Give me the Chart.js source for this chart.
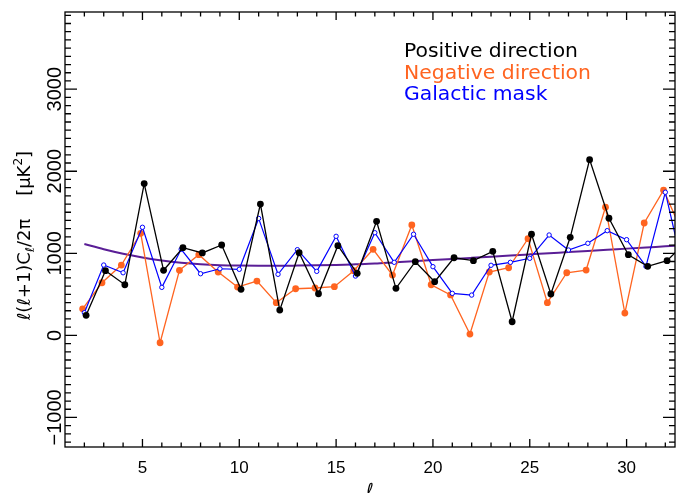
<!DOCTYPE html>
<html>
<head>
<meta charset="utf-8">
<script src="https://cdn.jsdelivr.net/npm/chart.js@4.4.1/dist/chart.umd.min.js"></script>
<style>
  html, body { margin: 0; padding: 0; background: #fff; }
  #wrap { width: 680px; height: 493px; }
</style>
</head>
<body>
<div id="wrap"><canvas id="powerChart" width="680" height="493"></canvas></div>
<script>
// multipoles (l = 33 lies past the right edge, only its connecting lines show)
const ells = [2, 3, 4, 5, 6, 7, 8, 9, 10, 11, 12, 13, 14, 15, 16, 17, 18, 19, 20, 21, 22, 23, 24, 25, 26, 27, 28, 29, 30, 31, 32, 33];

// l(l+1)C_l/2pi in uK^2
const positiveDir = [244, 788, 617, 1849, 793, 1068, 1004, 1101, 561, 1600, 308, 1007, 507, 1093, 756, 1390, 573, 898, 654, 946, 910, 1024, 166, 1232, 504, 1195, 2141, 1427, 983, 841, 910, 1141];
const negativeDir = [324, 641, 857, 1244, -90, 793, 983, 772, 589, 662, 398, 568, 577, 593, 788, 1049, 735, 1345, 617, 493, 16, 772, 824, 1178, 398, 763, 796, 1561, 272, 1369, 1768, 1240];
const galacticMask = [276, 857, 763, 1317, 585, 1049, 751, 812, 805, 1425, 744, 1044, 780, 1207, 723, 1251, 890, 1232, 837, 512, 491, 854, 890, 939, 1223, 1040, 1122, 1276, 1166, 841, 1744, 720];
const modelCurve = [1113, 1050, 995, 950, 913, 885, 866, 855, 850, 848, 848, 850, 853, 858, 866, 875, 889, 903, 917, 931, 945, 959, 973, 987, 1001, 1015, 1029, 1043, 1057, 1071, 1085, 1099];

const xTickLabels = [5, 10, 15, 20, 25, 30];
const yTickLabels = [-1000, 0, 1000, 2000, 3000];
const legendNames = ['Positive direction', 'Negative direction', 'Galactic mask'];

const black = '#000000';
const orange = '#ff6420';
const blue = '#0000ff';
const purple = '#5a1e96';

// small horizontal shift the original uses to separate the two directions
const shift = 0.09;
const toPoints = (vals, dx) => ells.map((l, i) => ({ x: l + dx, y: vals[i] }));

// frame, inward ticks, rotated y labels, axis titles and text legend
const framePlugin = {
  id: 'frame',
  afterDraw(chart) {
    const { ctx, chartArea: a, scales: { x, y } } = chart;
    ctx.save();
    ctx.strokeStyle = black;
    ctx.fillStyle = black;
    ctx.lineWidth = 1.3;
    ctx.strokeRect(a.left, a.top, a.right - a.left, a.bottom - a.top);

    ctx.beginPath();
    for (let v = 2; v <= 32; v++) {
      const px = x.getPixelForValue(v);
      const len = v % 5 === 0 ? 8 : 4.5;
      ctx.moveTo(px, a.bottom); ctx.lineTo(px, a.bottom - len);
      ctx.moveTo(px, a.top); ctx.lineTo(px, a.top + len);
    }
    for (let v = -1300; v <= 3900; v += 100) {
      const py = y.getPixelForValue(v);
      const len = v % 1000 === 0 ? 12 : 6;
      ctx.moveTo(a.left, py); ctx.lineTo(a.left + len, py);
      ctx.moveTo(a.right, py); ctx.lineTo(a.right - len, py);
    }
    ctx.stroke();

    // y tick labels, rotated
    ctx.font = '20px "Liberation Sans"';
    ctx.textAlign = 'center';
    ctx.textBaseline = 'alphabetic';
    yTickLabels.forEach(v => {
      ctx.save();
      ctx.translate(61, y.getPixelForValue(v));
      ctx.rotate(-Math.PI / 2);
      ctx.fillText(v < 0 ? '\u2212' + Math.abs(v) : String(v), 0, 0);
      ctx.restore();
    });

    // y title: l(l+1)C_l/2pi  [uK^2]
    const parts = [
      { t: '\u2113(\u2113+1)C', size: 18, dy: 0 },
      { t: '\u2113', size: 12, dy: 4 },
      { t: '/2\u03c0', size: 18, dy: 0 },
      { t: '    [\u03bcK', size: 18, dy: 0 },
      { t: '2', size: 12, dy: -8 },
      { t: ']', size: 18, dy: 0 }
    ];
    ctx.textAlign = 'left';
    let total = 0;
    parts.forEach(p => {
      ctx.font = p.size + 'px "DejaVu Sans"';
      p.w = ctx.measureText(p.t).width;
      total += p.w;
    });
    ctx.save();
    ctx.translate(30, (a.top + a.bottom) / 2 + 6);
    ctx.rotate(-Math.PI / 2);
    let cx = -total / 2;
    parts.forEach(p => {
      ctx.font = p.size + 'px "DejaVu Sans"';
      ctx.fillText(p.t, cx, p.dy);
      cx += p.w;
    });
    ctx.restore();

    // x title
    ctx.font = 'italic 18px "DejaVu Sans"';
    ctx.textAlign = 'center';
    ctx.fillText('\u2113', (a.left + a.right) / 2, 496);

    // legend as plain coloured text
    ctx.font = '19px "DejaVu Sans"';
    ctx.textAlign = 'left';
    const stretch = 174 / ctx.measureText(legendNames[0]).width;
    const legendColors = [black, orange, blue];
    legendNames.forEach((name, i) => {
      ctx.save();
      ctx.translate(404, 57 + i * 21.5);
      ctx.scale(stretch, 1);
      ctx.fillStyle = legendColors[i];
      ctx.fillText(name, 0, 0);
      ctx.restore();
    });
    ctx.restore();
  }
};

new Chart(document.getElementById('powerChart'), {
  type: 'line',
  data: {
    datasets: [
      {
        label: legendNames[0],
        data: toPoints(positiveDir, shift),
        borderColor: black,
        backgroundColor: black,
        borderWidth: 1.3,
        pointRadius: 3.4,
        pointBorderWidth: 0,
        pointBackgroundColor: black
      },
      {
        label: legendNames[2],
        data: toPoints(galacticMask, 0),
        borderColor: blue,
        backgroundColor: blue,
        borderWidth: 1.2,
        pointRadius: 2.2,
        pointBorderWidth: 1,
        pointBorderColor: blue,
        pointBackgroundColor: '#ffffff'
      },
      {
        label: legendNames[1],
        data: toPoints(negativeDir, -shift),
        borderColor: orange,
        backgroundColor: orange,
        borderWidth: 1.3,
        pointRadius: 3.4,
        pointBorderWidth: 0,
        pointBackgroundColor: orange
      },
      {
        label: 'model',
        data: toPoints(modelCurve, 0),
        borderColor: purple,
        borderWidth: 2,
        pointRadius: 0,
        cubicInterpolationMode: 'monotone'
      }
    ]
  },
  options: {
    responsive: false,
    animation: false,
    layout: { padding: { top: 12, right: 1, left: 0, bottom: 0 } },
    plugins: { legend: { display: false }, tooltip: { enabled: false } },
    scales: {
      x: {
        type: 'linear',
        min: 1,
        max: 32.5,
        grid: { display: false, drawTicks: false },
        border: { display: false },
        ticks: {
          color: black,
          font: { family: 'Liberation Sans', size: 17 },
          padding: 11,
          maxRotation: 0,
          autoSkip: false
        },
        afterBuildTicks(s) { s.ticks = xTickLabels.map(v => ({ value: v })); },
        afterFit(s) { s.height = 46; }
      },
      y: {
        min: -1360,
        max: 3940,
        grid: { display: false, drawTicks: false },
        border: { display: false },
        ticks: { display: false },
        afterFit(s) { s.width = 65; }
      }
    }
  },
  plugins: [framePlugin]
});
</script>
</body>
</html>
